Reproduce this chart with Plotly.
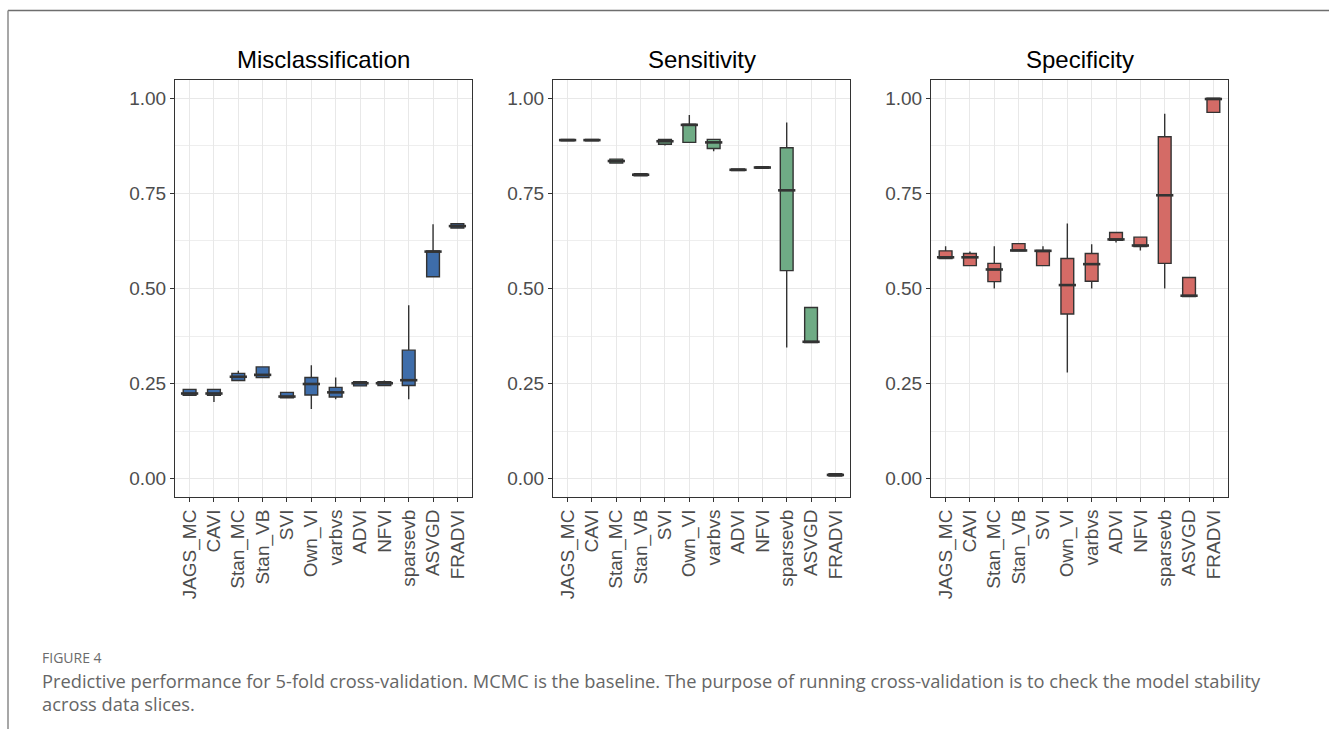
import plotly.graph_objects as go

W, H = 1329, 729

methods = ["JAGS_MC", "CAVI", "Stan_MC", "Stan_VB", "SVI", "Own_VI", "varbvs",
           "ADVI", "NFVI", "sparsevb", "ASVGD", "FRADVI"]

# Misclassification rate across the 5 folds (box summaries)
mis_low = [0.218, 0.202, 0.258, 0.266, 0.213, 0.183, 0.209, 0.244, 0.245, 0.209, 0.531, 0.659]
mis_q1  = [0.219, 0.219, 0.258, 0.266, 0.213, 0.220, 0.215, 0.244, 0.245, 0.245, 0.531, 0.659]
mis_med = [0.224, 0.224, 0.268, 0.273, 0.216, 0.249, 0.227, 0.251, 0.251, 0.259, 0.597, 0.664]
mis_q3  = [0.235, 0.235, 0.277, 0.294, 0.227, 0.266, 0.240, 0.255, 0.255, 0.338, 0.599, 0.670]
mis_up  = [0.236, 0.235, 0.284, 0.294, 0.227, 0.298, 0.266, 0.255, 0.258, 0.456, 0.669, 0.670]

# Sensitivity across the 5 folds
sen_low = [0.888, 0.888, 0.830, 0.796, 0.876, 0.884, 0.861, 0.810, 0.816, 0.345, 0.358, 0.007]
sen_q1  = [0.888, 0.888, 0.830, 0.796, 0.879, 0.884, 0.868, 0.810, 0.816, 0.547, 0.358, 0.007]
sen_med = [0.890, 0.890, 0.835, 0.799, 0.887, 0.930, 0.884, 0.812, 0.818, 0.758, 0.360, 0.010]
sen_q3  = [0.892, 0.892, 0.840, 0.802, 0.892, 0.932, 0.892, 0.814, 0.820, 0.870, 0.450, 0.013]
sen_up  = [0.892, 0.892, 0.840, 0.802, 0.892, 0.956, 0.892, 0.814, 0.820, 0.936, 0.450, 0.013]

# Specificity across the 5 folds
spe_low = [0.579, 0.560, 0.500, 0.599, 0.560, 0.279, 0.500, 0.621, 0.600, 0.500, 0.479, 0.963]
spe_q1  = [0.579, 0.560, 0.518, 0.599, 0.560, 0.433, 0.519, 0.627, 0.610, 0.566, 0.479, 0.963]
spe_med = [0.582, 0.582, 0.550, 0.600, 0.599, 0.509, 0.564, 0.629, 0.613, 0.745, 0.481, 0.998]
spe_q3  = [0.599, 0.592, 0.566, 0.618, 0.600, 0.579, 0.592, 0.647, 0.635, 0.899, 0.529, 1.000]
spe_up  = [0.611, 0.597, 0.611, 0.618, 0.611, 0.671, 0.616, 0.647, 0.635, 0.959, 0.529, 1.000]

y_ticks = [0.0, 0.25, 0.5, 0.75, 1.0]

panels = [
    ("Misclassification", "#3E6DAA", mis_low, mis_q1, mis_med, mis_q3, mis_up),
    ("Sensitivity", "#6FAB85", sen_low, sen_q1, sen_med, sen_q3, sen_up),
    ("Specificity", "#D46B66", spe_low, spe_q1, spe_med, spe_q3, spe_up),
]

x_px = [(175, 472), (553, 850), (931, 1228)]
y_top, y_bot = 80, 497
ydom = [1 - y_bot / H, 1 - y_top / H]

OUTLINE = "#333333"
GRID = "#E8E8E8"
TICKFONT = dict(family="Liberation Sans, Arial, sans-serif", size=19, color="#4D4D4D")

fig = go.Figure()
shapes = []
annotations = []
BOX_W = 0.75

for k, (title, color, lo, q1, med, q3, up) in enumerate(panels):
    ax = "" if k == 0 else str(k + 1)
    fig.add_trace(go.Box(
        x=methods, q1=q1, median=med, q3=q3, lowerfence=lo, upperfence=up,
        xaxis="x" + ax, yaxis="y" + ax,
        fillcolor=color, line=dict(color=OUTLINE, width=1.4),
        whiskerwidth=0, boxpoints=False, showlegend=False, hoverinfo="skip",
    ))
    # thicker median bars, as in ggplot's box geometry
    for i, m in enumerate(med):
        shapes.append(dict(
            type="line", xref="x" + ax, yref="y" + ax,
            x0=i - BOX_W / 2 + 0.02, x1=i + BOX_W / 2 - 0.02, y0=m, y1=m,
            line=dict(color=OUTLINE, width=2.6), layer="above",
        ))
    x0, x1 = x_px[k]
    dom = [x0 / W, x1 / W]
    fig.update_layout(**{
        "xaxis" + ax: dict(
            domain=dom, anchor="y" + ax, type="category",
            categoryorder="array", categoryarray=methods,
            range=[-0.6, len(methods) - 0.4],
            tickangle=-90, tickfont=TICKFONT,
            showgrid=True, gridcolor=GRID, gridwidth=1.2,
            showline=True, linecolor=OUTLINE, linewidth=1, mirror=True,
            ticks="outside", ticklen=4, tickcolor=OUTLINE, tickwidth=1,
            zeroline=False, fixedrange=True,
        ),
        "yaxis" + ax: dict(
            domain=ydom, anchor="x" + ax,
            range=[-0.048, 1.048],
            tickmode="array", tickvals=y_ticks,
            ticktext=[f"{v:.2f}" for v in y_ticks], tickfont=TICKFONT,
            showgrid=True, gridcolor=GRID, gridwidth=1.2,
            minor=dict(dtick=0.125, tick0=0.125, showgrid=True, gridcolor="#EEEEEE", gridwidth=0.9),
            showline=True, linecolor=OUTLINE, linewidth=1, mirror=True,
            ticks="outside", ticklen=4, tickcolor=OUTLINE, tickwidth=1,
            zeroline=False, fixedrange=True,
        ),
    })
    annotations.append(dict(
        text=title, xref="paper", yref="paper",
        x=(x0 + x1) / 2 / W, y=1 - 60 / H, xanchor="center", yanchor="middle",
        showarrow=False,
        font=dict(family="Liberation Sans, Arial, sans-serif", size=24, color="black"),
    ))

# page frame
shapes.append(dict(type="line", xref="paper", yref="paper",
                   x0=8 / W, x1=1.0, y0=1 - 10.5 / H, y1=1 - 10.5 / H,
                   line=dict(color="#6E6E6E", width=1.5)))
shapes.append(dict(type="line", xref="paper", yref="paper",
                   x0=8 / W, x1=8 / W, y0=0, y1=1 - 10.5 / H,
                   line=dict(color="#8A8A8A", width=1.5)))

CAP = "Open Sans, Noto Sans, sans-serif"
annotations.append(dict(
    text="FIGURE 4", xref="paper", yref="paper", x=40 / W, y=1 - 657 / H,
    xanchor="left", yanchor="middle", showarrow=False,
    font=dict(family=CAP, size=14, color="#6B6B6B"),
))
annotations.append(dict(
    text="Predictive performance for 5-fold cross-validation. MCMC is the baseline. "
         "The purpose of running cross-validation is to check the model stability",
    xref="paper", yref="paper", x=40 / W, y=1 - 680 / H,
    xanchor="left", yanchor="middle", showarrow=False,
    font=dict(family=CAP, size=18.3, color="#666666"),
))
annotations.append(dict(
    text="across data slices.", xref="paper", yref="paper", x=40 / W, y=1 - 703 / H,
    xanchor="left", yanchor="middle", showarrow=False,
    font=dict(family=CAP, size=18.3, color="#666666"),
))

fig.update_layout(
    width=W, height=H, margin=dict(l=0, r=0, t=0, b=0),
    paper_bgcolor="white", plot_bgcolor="white",
    boxgap=0.25, shapes=shapes, annotations=annotations,
)

fig.write_html("out.html", config={"displayModeBar": False})
